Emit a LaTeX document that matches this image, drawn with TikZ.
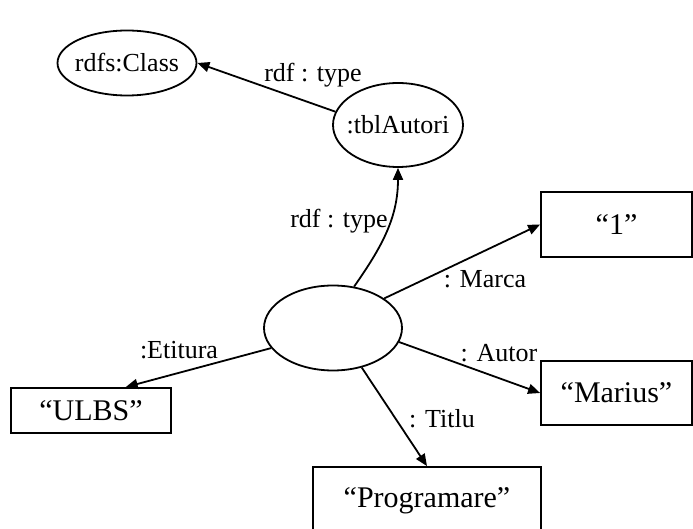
\documentclass[tikz,border=0pt]{standalone}
\usepackage{fontspec}
\setmainfont{Liberation Serif}
\usepackage{tikz}
\usetikzlibrary{arrows.meta,shapes.geometric}

\begin{document}
\begin{tikzpicture}[x=0.5pt,y=-0.5pt]
				\useasboundingbox (0,0) rectangle (693,529);
				\begin{scope}[every node/.style={ellipse,draw,line width=0.9pt,inner sep=-6pt,font=\fontsize{13}{15}\selectfont}]
				\node[minimum width=69.5pt,minimum height=32.5pt] (Class) at (127,63) {rdfs:Class};
				\node[minimum width=65pt,minimum height=42pt] (Autori) at (398,125) {:tblAutori};
				\node[minimum width=69pt,minimum height=42.5pt] (R) at (333,328) {};
				\end{scope}
				\begin{scope}[every node/.style={rectangle,draw,line width=0.9pt,inner sep=0pt,font=\fontsize{15}{17}\selectfont}]
				\node[minimum width=75.5pt,minimum height=32.5pt] (One) at (616.5,224.5) {“1”};
				\node[minimum width=80pt,minimum height=22.5pt] (ULBS) at (91,410.5) {“ULBS”};
				\node[minimum width=75.5pt,minimum height=32pt] (Marius) at (616.5,393) {“Marius”};
				\node[minimum width=114pt,minimum height=34pt] (Prog) at (427,501) {“Programare”};
				\end{scope}
				\begin{scope}[>={Triangle[black,length=6pt,width=5pt]},
				every edge/.style={draw=black,line width=0.9pt}]
				\path [->] (Autori.168) edge (Class.east);
				\path [->] (R.63) edge[out=55,in=-90] (Autori.south);
				\path [->] (R.30) edge (One.west);
				\path [->] (R.198) edge (ULBS.34);
				\path [->] (R.-12.6) edge (Marius.west);
				\path [->] (R.-54) edge (Prog.north);
				\end{scope}
				\begin{scope}[every node/.style={font=\fontsize{13}{15}\selectfont,inner sep=0pt}]
				\node (lType) at (313,75) {rdf : type};
				\node (lType2) at (339,221) {rdf : type};
				\node (lMarca) at (485,279) {: Marca};
				\node (lEtitura) at (179,350) {:Etitura};
				\node (lAutor) at (499,353) {: Autor};
				\node (lTitlu) at (442,419) {: Titlu};
				\end{scope}
				\end{tikzpicture}
\end{document}
